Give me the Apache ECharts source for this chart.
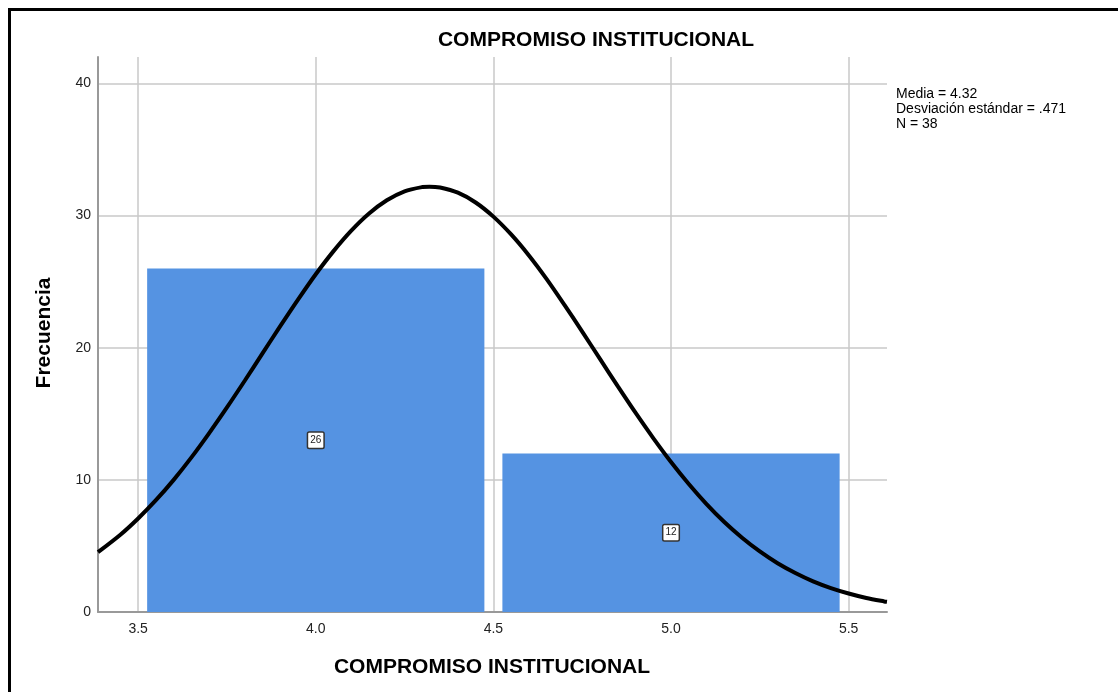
<!DOCTYPE html>
<html>
<head>
<meta charset="utf-8">
<script src="https://cdn.jsdelivr.net/npm/echarts@6/dist/echarts.min.js"></script>
<style>
html,body{margin:0;padding:0;background:#fff;}
#chart{width:1118px;height:692px;}
</style>
</head>
<body>
<div id="chart"></div>
<script>
// ---- data ----
var chartTitle = 'COMPROMISO INSTITUCIONAL';
var xAxisTitle = 'COMPROMISO INSTITUCIONAL';
var yAxisTitle = 'Frecuencia';
var statsLines = ['Media = 4.32', 'Desviación estándar = .471', 'N = 38'];

var binStart = [3.5, 4.5];
var binEnd = [4.5, 5.5];
var binCount = [26, 12];

var xTicks = [3.5, 4.0, 4.5, 5.0, 5.5];
var xTickLabels = ['3.5', '4.0', '4.5', '5.0', '5.5'];
var yTickLabels = ['0', '10', '20', '30', '40'];

// normal curve
var curveX = [3.387, 3.45, 3.5, 3.55, 3.6, 3.65, 3.7, 3.75, 3.8, 3.85, 3.9, 3.95, 4.0, 4.05, 4.1, 4.15, 4.2, 4.25, 4.3, 4.32, 4.35, 4.4, 4.45, 4.5, 4.55, 4.6, 4.65, 4.7, 4.75, 4.8, 4.85, 4.9, 4.95, 5.0, 5.05, 5.1, 5.15, 5.2, 5.25, 5.3, 5.35, 5.4, 5.45, 5.5, 5.55, 5.6, 5.608];
var curveY = [4.53, 5.85, 7.08, 8.46, 10.0, 11.70, 13.54, 15.48, 17.5, 19.57, 21.63, 23.64, 25.56, 27.31, 28.86, 30.16, 31.16, 31.84, 32.16, 32.19, 32.12, 31.73, 30.99, 29.92, 28.57, 26.98, 25.19, 23.24, 21.22, 19.15, 17.09, 15.08, 13.16, 11.35, 9.69, 8.17, 6.81, 5.62, 4.58, 3.69, 2.95, 2.32, 1.81, 1.40, 1.06, 0.80, 0.77];

// ---- build ----
var chart = echarts.init(document.getElementById('chart'), null, {renderer: 'canvas'});

var barData = binStart.map(function (s, i) { return [s, binEnd[i], binCount[i]]; });
var curveData = curveX.map(function (x, i) { return [x, curveY[i]]; });
var labelData = binStart.map(function (s, i) { return [(s + binEnd[i]) / 2, binCount[i] / 2, binCount[i]]; });

var option = {
  animation: false,
  backgroundColor: '#ffffff',
  grid: {left: 98, right: 231, top: 57, bottom: 80, containLabel: false},
  xAxis: {
    type: 'value',
    min: 3.387,
    max: 5.608,
    axisLine: {show: true, onZero: false, lineStyle: {color: '#999999', width: 2}},
    axisTick: {show: false},
    splitLine: {show: false},
    axisLabel: {
      customValues: xTicks,
      formatter: function (v) {
        var i = xTicks.indexOf(Math.round(v * 10) / 10);
        return i >= 0 ? xTickLabels[i] : '';
      },
      color: '#222', fontSize: 14, fontFamily: 'Liberation Sans, Arial', margin: 10
    }
  },
  yAxis: {
    type: 'value',
    min: 0,
    max: 42,
    interval: 10,
    axisLine: {show: true, lineStyle: {color: '#999999', width: 2}},
    axisTick: {show: false},
    splitLine: {show: true, showMinLine: false, showMaxLine: false, lineStyle: {color: '#c8c8c8', width: 1.5}},
    axisLabel: {
      showMaxLabel: false,
      formatter: function (v) {
        var i = Math.round(v / 10);
        return (v % 10 === 0 && yTickLabels[i] !== undefined) ? yTickLabels[i] : '';
      },
      color: '#222', fontSize: 14, fontFamily: 'Liberation Sans, Arial', margin: 7
    }
  },
  graphic: [
    {type: 'rect', shape: {x: 9.5, y: 9.5, width: 1130, height: 700}, style: {fill: 'none', stroke: '#000', lineWidth: 3}, z: 100},
    {type: 'text', x: 596, y: 40, style: {text: chartTitle, font: 'bold 21px "Liberation Sans", Arial', fill: '#000', align: 'center', verticalAlign: 'middle'}},
    {type: 'text', x: 492, y: 667, style: {text: xAxisTitle, font: 'bold 21px "Liberation Sans", Arial', fill: '#000', align: 'center', verticalAlign: 'middle'}},
    {type: 'text', x: 44, y: 333, rotation: Math.PI / 2, style: {text: yAxisTitle, font: 'bold 21px "Liberation Sans", Arial', fill: '#000', align: 'center', verticalAlign: 'middle'}},
    {type: 'text', x: 896, y: 87, style: {text: statsLines.join('\n'), font: '14px "Liberation Sans", Arial', lineHeight: 15, fill: '#000', align: 'left', verticalAlign: 'top'}}
  ],
  series: [
    {
      // vertical grid lines at the x ticks
      type: 'line',
      data: [],
      silent: true,
      z: 0,
      markLine: {
        z: 0,
        symbol: 'none',
        silent: true,
        label: {show: false},
        lineStyle: {color: '#c8c8c8', width: 1.5, type: 'solid'},
        data: xTicks.map(function (t) { return {xAxis: t}; })
      }
    },
    {
      type: 'custom',
      data: barData,
      renderItem: function (params, api) {
        var p0 = api.coord([api.value(0), api.value(2)]);
        var p1 = api.coord([api.value(1), 0]);
        var inset = 9;
        return {
          type: 'rect',
          shape: {x: p0[0] + inset, y: p0[1], width: p1[0] - p0[0] - 2 * inset, height: p1[1] - p0[1]},
          style: {fill: '#5593e2'}
        };
      },
      encode: {x: [0, 1], y: 2},
      z: 2
    },
    {
      type: 'custom',
      data: labelData,
      renderItem: function (params, api) {
        var p = api.coord([api.value(0), api.value(1)]);
        return {
          type: 'text',
          x: p[0], y: p[1],
          style: {
            text: String(api.value(2)),
            font: '10px "Liberation Sans", Arial',
            fill: '#222',
            align: 'center', verticalAlign: 'middle',
            backgroundColor: '#ffffff',
            borderColor: '#333',
            borderWidth: 1.5,
            borderRadius: 1,
            padding: [3, 2, 2, 2]
          }
        };
      },
      encode: {x: 0, y: 1},
      z: 3
    },
    {
      type: 'line',
      data: curveData,
      smooth: 0.3,
      showSymbol: false,
      symbol: 'none',
      clip: true,
      lineStyle: {color: '#000', width: 4},
      z: 5
    }
  ]
};
chart.setOption(option);
</script>
</body>
</html>
